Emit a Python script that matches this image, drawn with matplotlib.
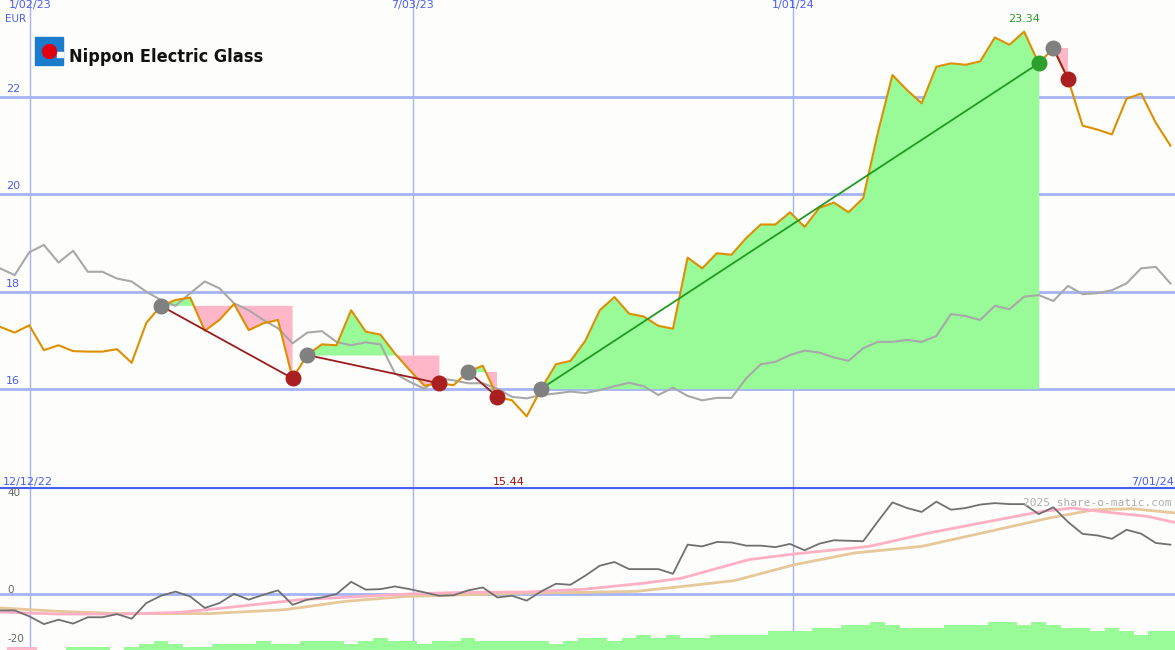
import matplotlib
matplotlib.use("Agg")
import matplotlib.pyplot as plt
import numpy as np

price = [17.28,17.16,17.31,16.80,16.90,16.78,16.77,16.77,16.82,16.54,17.36,17.71,17.83,17.88,17.20,17.42,17.75,17.21,17.35,17.42,
         16.22,16.70,16.92,16.90,17.62,17.18,17.12,16.73,16.39,16.07,16.12,16.08,16.36,16.48,15.84,15.77,15.44,16.01,16.51,16.58,
         16.99,17.62,17.89,17.55,17.49,17.30,17.24,18.70,18.48,18.79,18.76,19.10,19.38,19.38,19.63,19.33,19.72,19.83,19.63,19.92,
         21.26,22.45,22.14,21.87,22.62,22.69,22.66,22.73,23.22,23.07,23.34,22.69,23.00,22.37,21.41,21.33,21.23,21.96,22.07,21.47,21.00]
bench = [18.48,18.34,18.81,18.96,18.60,18.84,18.41,18.41,18.27,18.21,18.00,17.83,17.71,17.97,18.21,18.07,17.76,17.62,17.42,17.25,
         16.94,17.16,17.19,16.97,16.90,16.96,16.92,16.32,16.15,16.01,16.22,16.18,16.12,16.12,16.01,15.84,15.81,15.88,15.91,15.95,
         15.92,15.98,16.06,16.13,16.06,15.88,16.03,15.86,15.77,15.82,15.82,16.22,16.51,16.56,16.70,16.79,16.75,16.65,16.58,16.84,
         16.97,16.97,17.01,16.97,17.09,17.54,17.50,17.42,17.71,17.64,17.90,17.93,17.81,18.12,17.95,17.97,18.03,18.17,18.48,18.51,18.17]
# trades: (buy index, sell index, entry level)
trades = [(11,20,17.71),(21,30,16.70),(32,34,16.36),(37,71,16.01),(72,73,23.00)]
win_trade = 3

mom = [-6.7,-6.7,-9.1,-12.3,-10.5,-12.1,-9.5,-9.5,-8.2,-10.1,-3.7,-0.7,1.0,-1.0,-5.7,-3.7,0.1,-2.3,-0.3,1.5,
       -4.4,-2.3,-1.4,0.0,5.0,1.8,2.0,3.1,2.0,0.7,-0.7,-0.5,1.5,2.7,-1.4,-0.7,-2.7,1.1,4.2,3.8,
       7.5,11.6,13.1,10.2,10.2,10.2,8.3,20.2,19.5,21.3,21.1,19.8,19.8,19.2,20.5,17.9,20.6,22.0,21.8,21.6,
       29.7,37.5,35.2,33.6,37.8,34.5,35.2,36.6,37.2,36.8,36.8,32.7,35.5,29.5,24.6,24.0,22.6,26.3,24.7,20.9,20.2]
pink_x = [0,4.1,8.2,12.3,16.4,20.5,24.6,28.2,31.8,35.9,40.0,44.1,46.6,51.2,54.3,59.4,63.5,67.6,71.2,73.3,75.8,78.4,80.3]
pink_y = [-7.4,-8.2,-8.2,-7.5,-5.0,-2.3,-1.0,0.1,0.7,0.8,2.0,4.5,6.5,14.1,16.4,19.5,25.0,29.7,33.8,35.2,33.4,31.8,29.3]
tan_x = [0,4.1,8.2,14.3,19.5,23.6,27.7,31.8,35.9,40.0,43.5,47.1,50.2,54.3,58.4,63.0,67.6,71.7,74.8,77.4,80.3]
tan_y = [-5.7,-7.1,-8.0,-8.0,-6.4,-3.0,-1.0,-0.3,0.4,0.7,1.1,3.4,5.5,12.0,16.8,19.5,25.6,31.1,34.5,34.9,33.2]
vol = [0,-1.1,-1.1,0,0,1.1,1.1,1.1,0,1.1,2.5,3.7,2.5,1.4,1.4,2.5,2.5,2.5,3.7,2.5,
       2.5,3.7,3.7,3.7,2.5,3.7,4.8,3.7,3.7,2.5,3.7,3.7,4.8,3.7,3.7,3.7,3.7,3.7,2.5,3.7,
       4.8,4.8,3.7,4.8,6.1,4.8,6.1,4.8,4.8,6.1,6.1,6.1,6.1,7.7,7.7,7.7,8.9,8.9,10.2,10.2,
       11.3,10.2,8.9,8.9,8.9,10.2,10.2,10.2,11.3,11.3,10.2,11.3,10.2,8.9,8.9,7.7,8.9,7.7,6.1,7.7,7.7]
date_ticks = [2.05, 28.2, 54.2]
date_labels = ["1/02/23", "7/03/23", "1/01/24"]

GRID = "#a4b4f4"
BLUE = "#4a5ef0"
XL = (0, 1175/14.63)
x = np.arange(len(price))
p = np.array(price)

fig = plt.figure(figsize=(11.75, 6.5), dpi=100, facecolor="#fdfdfb")
ax = fig.add_axes([0, 163/650, 1, 487/650])
ax2 = fig.add_axes([0, 0, 1, 163/650])
for a in (ax, ax2):
    a.set_facecolor("#fdfdfb")
    a.set_xlim(*XL)
    a.axis("off")
    for t in date_ticks:
        a.axvline(t, color=GRID, lw=1, zorder=0)

ax.set_ylim(13.99, 23.99)
for v in [16, 18, 20, 22]:
    ax.axhline(v, color=GRID, lw=2, zorder=0)
    ax.text(0.005, v + 0.06, str(v), transform=ax.get_yaxis_transform(), color=BLUE,
            fontsize=8, va="bottom", ha="left")
ax.text(0.004, 1 - 14/487, "EUR", transform=ax.transAxes, color=BLUE, fontsize=7.5, va="top")
for t, l in zip(date_ticks, date_labels):
    ax.text(t, 1.0, l, transform=ax.get_xaxis_transform(), color=BLUE, fontsize=8, ha="center", va="top")

for k, (s, e, lvl) in enumerate(trades):
    xs = x[s:e+1]; ys = p[s:e+1]
    ax.fill_between(xs, lvl, ys, where=ys >= lvl, interpolate=True, color="#98fb98", lw=0, zorder=1)
    ax.fill_between(xs, lvl, ys, where=ys < lvl, interpolate=True, color="#ffb6c8", lw=0, zorder=1)

ax.plot(x, bench, color="#a8a8a8", lw=1.5, zorder=2)
ax.plot(x, price, color="#dd8f00", lw=1.5, zorder=3)
for k, (s, e, lvl) in enumerate(trades):
    win = k == win_trade
    ax.plot([s, e], [price[s], price[e]], color="#229922" if win else "#9b1c1c", lw=1.3, zorder=4)
    ax.scatter([s], [price[s]], s=110, color="#808080", zorder=5)
    ax.scatter([e], [price[e]], s=110, color="#2ca02c" if win else "#aa2020", zorder=5)
imax = int(np.argmax(p))
ax.text(imax, 23.5, f"{price[imax]:.2f}", color="#2a9a2a", fontsize=8, ha="center", va="bottom")

# logo
ax.add_patch(plt.Rectangle((35/1175, 1-65/487), 28/1175, 28/487, transform=ax.transAxes, color="#1a7ccc", zorder=6))
ax.add_patch(plt.Rectangle((57/1175, 1-57/487), 6/1175, 5/487, transform=ax.transAxes, color="white", zorder=6))
ax.scatter([49/1175], [1-51/487], transform=ax.transAxes, s=100, color="#e00010", zorder=7)
ax.text(69/1175, 1-57/487, "Nippon Electric Glass", transform=ax.transAxes, fontsize=13, fontweight="bold",
        fontstretch="condensed", family="DejaVu Sans", va="center", ha="left", color="#111111")

# bottom panel
ax2.set_ylim(-22.9, 43.8)
ax2.axhline(43.8, color=BLUE, lw=3, zorder=0)
ax2.axhline(0, color=GRID, lw=2, zorder=0)
vol_a = np.array(vol)
ax2.bar(x, np.abs(vol_a), bottom=-22.9, width=1.0, color=np.where(vol_a >= 0, "#98fb98", "#ffb6c8"), zorder=1)
ax2.plot(tan_x, tan_y, color="#e6c89a", lw=2, zorder=2)
ax2.plot(pink_x, pink_y, color="#ffb0c4", lw=2, zorder=2)
ax2.plot(x, mom, color="#707070", lw=1.3, zorder=3)
for v in [40, 0, -20]:
    ax2.text(0.006, v + 1.5, str(v), transform=ax2.get_yaxis_transform(), color="#666666", fontsize=7.5, va="center")
ax2.text(0.002, 1.0, "12/12/22", transform=ax2.transAxes, color=BLUE, fontsize=8, va="bottom")
ax2.text(0.999, 1.0, "7/01/24", transform=ax2.transAxes, color=BLUE, fontsize=8, va="bottom", ha="right")
imin = int(np.argmin(p))
ax2.text(imin - 1.2, 43.8, f"{price[imin]:.2f}", color="#a01010", fontsize=8, va="bottom", ha="center")
ax2.text(0.997, 0.93, "2025 share-o-matic.com", transform=ax2.transAxes, color="#b0b0b0", fontsize=8,
         family="DejaVu Sans Mono", va="top", ha="right")

fig.savefig("out.png", dpi=100, facecolor=fig.get_facecolor())
